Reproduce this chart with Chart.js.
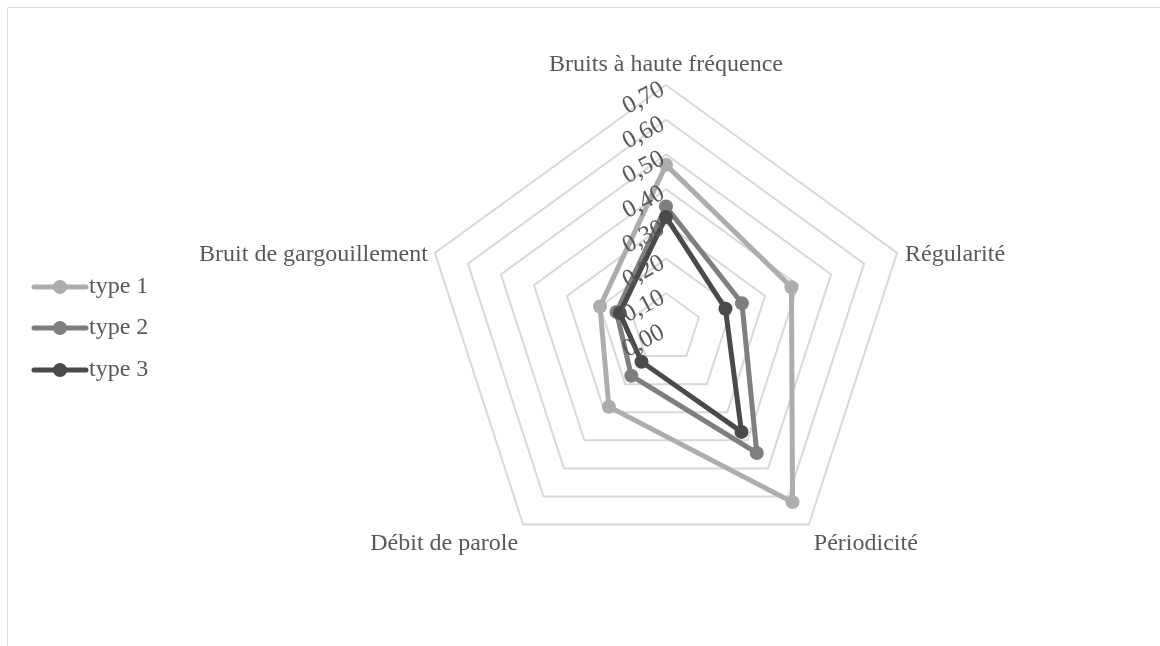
<!DOCTYPE html>
<html>
<head>
<meta charset="utf-8">
<script src="https://cdn.jsdelivr.net/npm/chart.js@4/dist/chart.umd.min.js"></script>
<style>
  html, body { margin: 0; background: #fff; }
  canvas { display: block; }
</style>
</head>
<body>
<canvas id="radar" width="1160" height="646"></canvas>
<script>
// données
const categories = ['Bruits à haute fréquence', 'Régularité', 'Périodicité', 'Débit de parole', 'Bruit de gargouillement'];
const seriesNames = ['type 1', 'type 2', 'type 3'];
const type1 = [0.47, 0.38, 0.62, 0.28, 0.20];
const type2 = [0.35, 0.23, 0.445, 0.17, 0.15];
const type3 = [0.32, 0.18, 0.37, 0.12, 0.14];
const tickValues = [0, 0.1, 0.2, 0.3, 0.4, 0.5, 0.6, 0.7];
const tickLabels = ['0,00', '0,10', '0,20', '0,30', '0,40', '0,50', '0,60', '0,70'];

const FONT = '"Liberation Serif", "Times New Roman", serif';
const TXT = '#595959';
const colors = ['#adadad', '#7f7f7f', '#4a4a4a'];

// bordure, étiquettes des axes, graduations tournées, légende
const excelDeco = {
  id: 'excelDeco',
  beforeDraw(chart) {
    const ctx = chart.ctx;
    ctx.save();
    ctx.strokeStyle = '#d9d9d9';
    ctx.lineWidth = 1;
    ctx.beginPath();
    ctx.moveTo(7.5, 646); ctx.lineTo(7.5, 7.5); ctx.lineTo(1160, 7.5);
    ctx.stroke();
    ctx.restore();
  },
  afterDraw(chart) {
    const ctx = chart.ctx, r = chart.scales.r;
    ctx.save();
    ctx.font = '24px ' + FONT;
    ctx.fillStyle = TXT;

    // [dx, dy, align, baseline] par étiquette
    const offs = [[0, -14, 'center', 'alphabetic'], [8, 2, 'left', 'middle'], [5, 7, 'left', 'top'], [-5, 7, 'right', 'top'], [-7, 2, 'right', 'middle']];
    categories.forEach((c, i) => {
      const p = r.getPointPosition(i, r.drawingArea);
      const o = offs[i];
      ctx.textAlign = o[2];
      ctx.textBaseline = o[3];
      ctx.fillText(c, p.x + o[0], p.y + o[1]);
    });

    ctx.font = '25px ' + FONT;
    tickValues.forEach((v, i) => {
      const y = r.yCenter - r.getDistanceFromCenterForValue(v);
      ctx.save();
      ctx.translate(r.xCenter - 3, y + 3);
      ctx.rotate(-28 * Math.PI / 180);
      ctx.textAlign = 'right';
      ctx.textBaseline = 'middle';
      ctx.fillText(tickLabels[i], 0, 0);
      ctx.restore();
    });

    ctx.font = '24px ' + FONT;
    const legendY = [287, 328, 370];
    chart.data.datasets.forEach((ds, i) => {
      const y = legendY[i];
      ctx.strokeStyle = ds.borderColor;
      ctx.lineWidth = 5;
      ctx.lineCap = 'round';
      ctx.beginPath(); ctx.moveTo(34, y); ctx.lineTo(86, y); ctx.stroke();
      ctx.fillStyle = ds.borderColor;
      ctx.beginPath(); ctx.arc(60, y, 7, 0, Math.PI * 2); ctx.fill();
      ctx.fillStyle = TXT;
      ctx.textAlign = 'left';
      ctx.textBaseline = 'middle';
      ctx.fillText(ds.label, 89, y);
    });
    ctx.restore();
  }
};

const mkSet = (i, data) => ({
  label: seriesNames[i],
  data,
  order: 3 - i,
  borderColor: colors[i],
  backgroundColor: colors[i],
  pointBackgroundColor: colors[i],
  pointBorderColor: colors[i],
  fill: false
});

new Chart(document.getElementById('radar'), {
  type: 'radar',
  data: {
    labels: categories,
    datasets: [mkSet(0, type1), mkSet(1, type2), mkSet(2, type3)]
  },
  options: {
    responsive: false,
    animation: false,
    layout: { padding: { left: 423, right: 251, top: 85, bottom: 75 } },
    plugins: { legend: { display: false }, tooltip: { enabled: false } },
    scales: {
      r: {
        min: 0, max: 0.7,
        ticks: { stepSize: 0.1, display: false },
        grid: { color: '#d9d9d9', lineWidth: 2 },
        angleLines: { display: false },
        pointLabels: { display: false }
      }
    },
    elements: {
      line: { borderWidth: 5, tension: 0 },
      point: { radius: 7, borderWidth: 0 }
    }
  },
  plugins: [excelDeco]
});
</script>
</body>
</html>
